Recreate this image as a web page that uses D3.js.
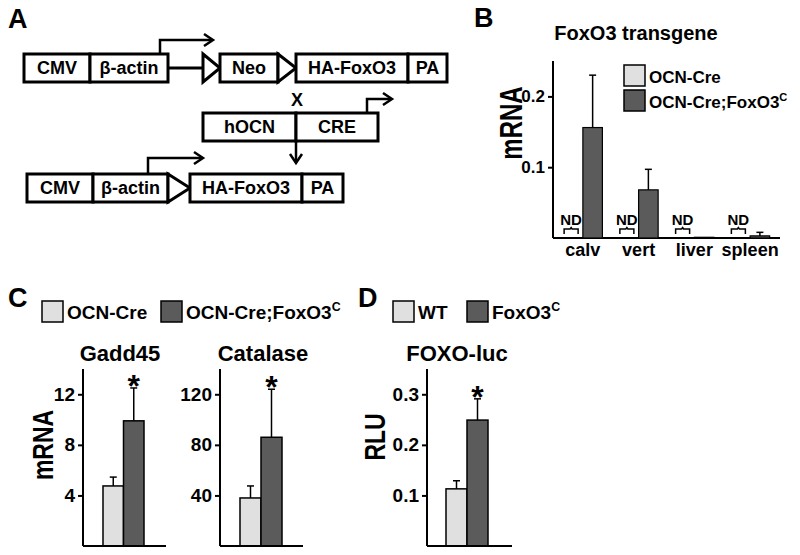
<!DOCTYPE html>
<html>
<head>
<meta charset="utf-8">
<script src="https://cdn.jsdelivr.net/npm/d3@7"></script>
<style>
  body { margin: 0; background: #fff; }
  svg text { font-family: "Liberation Sans", Arial, sans-serif; font-weight: bold; fill: #000; }
</style>
</head>
<body>
<div id="fig"></div>
<script>
// ---- data ----
const groupLabels = ["OCN-Cre", "OCN-Cre;FoxO3"];
const groupLabelsD = ["WT", "FoxO3"];

const tissues = ["calv", "vert", "liver", "spleen"];
const transgeneCre = [null, null, null, null];          // ND in every tissue
const transgeneFox = [0.156, 0.068, 0.001, 0.003];
const transgeneFoxErr = [0.074, 0.029, 0.0, 0.005];
const transgeneTicks = [0.1, 0.2];

const gaddValues = [4.75, 9.9];
const gaddErr = [0.7, 2.6];
const gaddTicks = [4, 8, 12];

const catalaseValues = [38, 86];
const catalaseErr = [9.5, 38];
const catalaseTicks = [40, 80, 120];

const luciferaseValues = [0.113, 0.249];
const luciferaseErr = [0.016, 0.042];
const luciferaseTicks = [0.1, 0.2, 0.3];

// construct labels for panel A
const topRow = ["CMV", "β-actin", "Neo", "HA-FoxO3", "PA"];
const creRow = ["hOCN", "CRE"];
const bottomRow = ["CMV", "β-actin", "HA-FoxO3", "PA"];

const LIGHT = "#e0e0e0", DARK = "#5b5b5b";

const width = 800, height = 555;
const svg = d3.select("#fig").append("svg")
    .attr("width", width)
    .attr("height", height);

function letter(x, y, t) {
    svg.append("text").attr("x", x).attr("y", y).style("font-size", "27px").text(t);
}

// rotated axis title, a bit condensed like the original
function sideLabel(g, x, yc, t, fs) {
    g.append("text")
        .attr("transform", `translate(${x},${yc}) rotate(-90) scale(1,1.3)`)
        .attr("text-anchor", "middle")
        .style("font-size", fs + "px").text(t);
}

// ---------------- Panel A: construct diagram ----------------
letter(8, 28, "A");

const gA = svg.append("g");

function box(x0, x1, y, h, label) {
    gA.append("rect")
        .attr("x", x0).attr("y", y).attr("width", x1 - x0).attr("height", h)
        .attr("fill", "#fff").attr("stroke", "#000").attr("stroke-width", 3);
    gA.append("text")
        .attr("x", (x0 + x1) / 2).attr("y", y + h / 2)
        .attr("dy", "0.36em")
        .attr("text-anchor", "middle")
        .style("font-size", "18px")
        .text(label);
}

function loxp(x0, x1, y, h) {
    gA.append("path")
        .attr("d", `M${x0},${y} L${x1},${y + h / 2} L${x0},${y + h} Z`)
        .attr("fill", "#fff").attr("stroke", "#000").attr("stroke-width", 3)
        .attr("stroke-linejoin", "miter");
}

function head(x, y, dir) {
    // open chevron arrowhead, dir "right" or "down"
    const d = dir === "right"
        ? `M${x - 9},${y - 6} L${x},${y} L${x - 9},${y + 6}`
        : `M${x - 6},${y - 9} L${x},${y} L${x + 6},${y - 9}`;
    gA.append("path").attr("d", d)
        .attr("fill", "none").attr("stroke", "#000").attr("stroke-width", 2.5);
}

function promoterArrow(x, y0, y1, x1) {
    gA.append("path")
        .attr("d", `M${x},${y0} V${y1} H${x1 - 1}`)
        .attr("fill", "none").attr("stroke", "#000").attr("stroke-width", 2.5);
    head(x1, y1, "right");
}

// top row
const rowH = 28;
let y = 54;
box(24, 90, y, rowH, topRow[0]);
box(90, 168, y, rowH, topRow[1]);
gA.append("line").attr("x1", 168).attr("x2", 203).attr("y1", y + rowH / 2).attr("y2", y + rowH / 2)
    .attr("stroke", "#000").attr("stroke-width", 3);
loxp(203, 220, y, rowH);
box(220, 278, y, rowH, topRow[2]);
loxp(278, 296, y, rowH);
box(296, 408, y, rowH, topRow[3]);
box(408, 447, y, rowH, topRow[4]);
promoterArrow(160, y, 40, 213);

gA.append("text").attr("x", 297).attr("y", 100).attr("dy", "0.36em")
    .attr("text-anchor", "middle").style("font-size", "18px").text("X");

// cre row
y = 113;
box(203, 296, y, rowH, creRow[0]);
box(296, 378, y, rowH, creRow[1]);
promoterArrow(367, y, 99, 392);

// down arrow
gA.append("line").attr("x1", 296).attr("x2", 296).attr("y1", 142).attr("y2", 162)
    .attr("stroke", "#000").attr("stroke-width", 2.5);
head(296, 163, "down");

// bottom row
y = 174;
box(27, 93, y, rowH, bottomRow[0]);
box(93, 168, y, rowH, bottomRow[1]);
loxp(168, 190, y, rowH);
box(190, 302, y, rowH, bottomRow[2]);
box(302, 343, y, rowH, bottomRow[3]);
promoterArrow(148, y, 158, 203);

// ---------------- shared helpers ----------------
function legendItem(x, yTop, size, fill, label, sup, fs) {
    svg.append("rect").attr("x", x).attr("y", yTop).attr("width", size).attr("height", size)
        .attr("fill", fill).attr("stroke", "#000").attr("stroke-width", 1.5);
    const t = svg.append("text").attr("x", x + size + 4).attr("y", yTop + size - 3)
        .style("font-size", fs + "px").text(label);
    if (sup) {
        t.append("tspan").attr("dy", -fs * 0.4).style("font-size", (fs * 0.65) + "px").text(sup);
    }
}

function yAxis(g, x, yScale, ticks, fs, fmt) {
    const ax = g.append("g")
        .attr("transform", `translate(${x},0)`)
        .call(d3.axisLeft(yScale).tickValues(ticks).tickSize(5).tickPadding(3).tickFormat(fmt));
    ax.select(".domain").attr("stroke-width", 2).attr("d", `M0,${yScale.range()[0]}V${yScale.range()[1]}`);
    ax.selectAll(".tick line").attr("stroke-width", 2);
    ax.selectAll(".tick text")
        .style("font-size", fs + "px")
        .style("font-family", '"Liberation Sans", Arial, sans-serif')
        .style("font-weight", "bold");
}

function baseline(g, x0, x1, yv) {
    g.append("line").attr("x1", x0).attr("x2", x1).attr("y1", yv).attr("y2", yv)
        .attr("stroke", "#000").attr("stroke-width", 2);
}

function errBar(g, cx, yTop, yErr) {
    g.append("line").attr("x1", cx).attr("x2", cx).attr("y1", yTop).attr("y2", yErr)
        .attr("stroke", "#000").attr("stroke-width", 1.5);
    g.append("line").attr("x1", cx - 3.5).attr("x2", cx + 3.5).attr("y1", yErr).attr("y2", yErr)
        .attr("stroke", "#000").attr("stroke-width", 1.5);
}

// ---------------- Panel B ----------------
letter(474, 27, "B");
const gB = svg.append("g");
gB.append("text").attr("x", 636).attr("y", 40).attr("text-anchor", "middle")
    .style("font-size", "20px").text("FoxO3 transgene");

const yB = d3.scaleLinear().domain([0, 0.25]).range([238, 61]);
const xB = d3.scaleBand().domain(tissues).range([555, 778]).paddingInner(0.3).paddingOuter(0.15);
const subB = d3.scaleBand().domain([0, 1]).range([0, xB.bandwidth()]);

yAxis(gB, 553, yB, transgeneTicks, 17, d3.format(".1f"));
baseline(gB, 553, 780, 238);

tissues.forEach((t, i) => {
    const x0 = xB(t);
    // control: not detected
    if (transgeneCre[i] === null) {
        const cx = x0 + subB(0) + subB.bandwidth() / 2 - 2;
        gB.append("text").attr("x", cx).attr("y", 225).attr("text-anchor", "middle")
            .style("font-size", "15px").text("ND");
        gB.append("path")
            .attr("d", `M${cx - 7},234 V229 H${cx - 1} L${cx},227.5 L${cx + 1},229 H${cx + 7} V234`)
            .attr("fill", "none").attr("stroke", "#000").attr("stroke-width", 1.5);
    }
    const v = transgeneFox[i];
    const bx = x0 + subB(1);
    gB.append("rect").attr("x", bx).attr("y", yB(v)).attr("width", subB.bandwidth())
        .attr("height", yB(0) - yB(v)).attr("fill", DARK).attr("stroke", "#000").attr("stroke-width", 1.2);
    if (transgeneFoxErr[i] > 0) {
        errBar(gB, bx + subB.bandwidth() / 2, yB(v), yB(v + transgeneFoxErr[i]));
    }
    gB.append("text").attr("x", x0 + xB.bandwidth() / 2).attr("y", 256).attr("text-anchor", "middle")
        .style("font-size", "18px").text(t);
});

sideLabel(gB, 522, 123, "mRNA", 24);

legendItem(624, 65, 21, LIGHT, groupLabels[0], null, 17);
legendItem(624, 90, 21, DARK, groupLabels[1], "C", 17);

// ---------------- Panel C ----------------
letter(8, 307, "C");
legendItem(42, 301, 21, LIGHT, groupLabels[0], null, 19);
legendItem(161, 301, 21, DARK, groupLabels[1], "C", 19);

function smallChart(g, axisX, axisEnd, barX0, barX1, domainMax, ticks, values, errs, title, titleX, fmt) {
    const yS = d3.scaleLinear().domain([0, domainMax]).range([546, 369]);
    const xS = d3.scaleBand().domain([0, 1]).range([barX0, barX1]);
    yAxis(g, axisX, yS, ticks, 19, fmt);
    values.forEach((v, i) => {
        g.append("rect").attr("x", xS(i)).attr("y", yS(v)).attr("width", xS.bandwidth())
            .attr("height", yS(0) - yS(v)).attr("fill", i === 0 ? LIGHT : DARK)
            .attr("stroke", "#000").attr("stroke-width", 1.5);
        errBar(g, xS(i) + xS.bandwidth() / 2, yS(v), yS(v + errs[i]));
    });
    baseline(g, axisX, axisEnd, 546);
    // significance star over the treated bar
    g.append("text").attr("x", xS(1) + xS.bandwidth() / 2).attr("y", yS(values[1] + errs[1]) + 9)
        .attr("text-anchor", "middle").style("font-size", "32px").text("*");
    g.append("text").attr("x", titleX).attr("y", 361).attr("text-anchor", "middle")
        .style("font-size", "22px").text(title);
}

const gC = svg.append("g");
smallChart(gC, 83, 166, 103, 144, 14, gaddTicks, gaddValues, gaddErr, "Gadd45", 120, d3.format("d"));
smallChart(gC, 220, 303, 240, 282, 140, catalaseTicks, catalaseValues, catalaseErr, "Catalase", 263, d3.format("d"));
sideLabel(gC, 53, 445, "mRNA", 23);

// ---------------- Panel D ----------------
letter(358, 307, "D");
legendItem(393, 301, 21, LIGHT, groupLabelsD[0], null, 19);
legendItem(467, 301, 21, DARK, groupLabelsD[1], "C", 19);
const gD = svg.append("g");
smallChart(gD, 427, 512, 446, 488, 0.35, luciferaseTicks, luciferaseValues, luciferaseErr, "FOXO-luc", 457, d3.format(".1f"));
sideLabel(gD, 385, 437, "RLU", 23);
</script>
</body>
</html>
